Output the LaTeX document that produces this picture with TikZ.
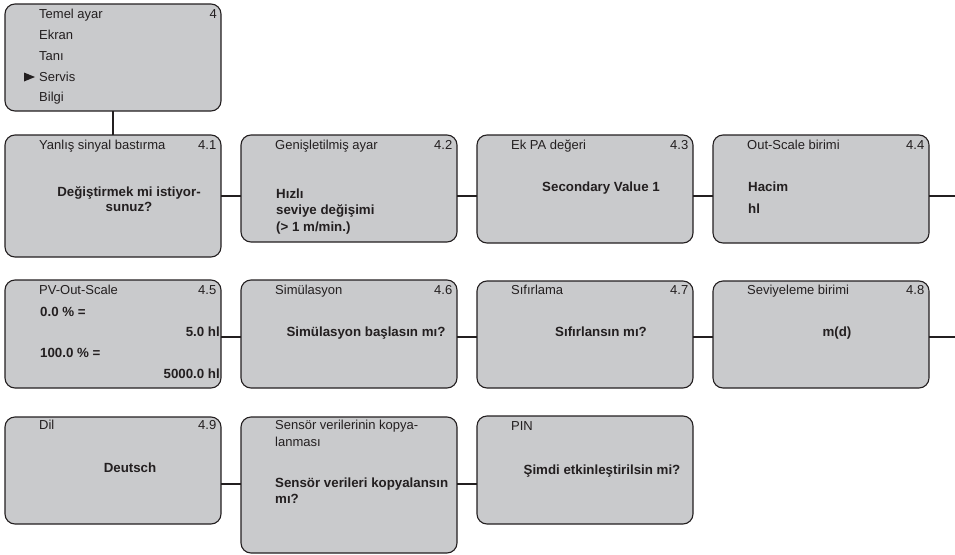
\documentclass[tikz,border=0pt]{standalone}
\usepackage{fontspec}
\setmainfont{Liberation Sans}
\definecolor{boxgray}{RGB}{201,202,204}
\definecolor{ink}{RGB}{35,31,32}
\tikzset{
  box/.style={draw=ink, line width=1.1pt, fill=boxgray, rounded corners=10pt,
              inner sep=0pt, outer sep=0pt, minimum width=216pt},
  conn/.style={draw=ink, line width=2.4pt},
  txt/.style={inner sep=0pt, text=ink, font=\fontsize{13}{15}\selectfont},
  hd/.style={txt, anchor=base west},
  num/.style={txt, anchor=base east},
  bc/.style={txt, anchor=base, font=\fontsize{13.3}{15}\selectfont\bfseries},
  bl/.style={txt, anchor=base west, font=\fontsize{13.3}{15}\selectfont\bfseries},
  br/.style={txt, anchor=base east, font=\fontsize{13.3}{15}\selectfont\bfseries},
}
\begin{document}
\begin{tikzpicture}[x=1pt, y=-1pt]
\useasboundingbox (0,0) rectangle (955,554);
% boxes
\node[box, minimum height=107pt] (top)  at (113,57.5) {};
\node[box, minimum height=122pt] (b41) at (113,196) {};
\node[box, minimum height=107pt] (b42) at (349,188.5) {};
\node[box, minimum height=108pt] (b43) at (585,189) {};
\node[box, minimum height=108pt] (b44) at (821,189) {};
\node[box, minimum height=108pt] (b45) at (113,334) {};
\node[box, minimum height=108pt] (b46) at (349,334) {};
\node[box, minimum height=107pt] (b47) at (585,334.5) {};
\node[box, minimum height=107pt] (b48) at (821,334.5) {};
\node[box, minimum height=107pt] (b49) at (113,470.5) {};
\node[box, minimum height=136pt] (b410) at (349,485) {};
\node[box, minimum height=108pt] (bpin) at (585,470) {};
% connector levels
\coordinate (r1) at (0,196);
\coordinate (r2) at (0,337);
\coordinate (r3) at (0,484);
\coordinate (e1) at (955,196);
\coordinate (e2) at (955,337);
% connectors
\draw[conn] (top.south) -- (b41.north);
\draw[conn] (b41.east |- r1) -- (b42.west |- r1);
\draw[conn] (b42.east |- r1) -- (b43.west |- r1);
\draw[conn] (b43.east |- r1) -- (b44.west |- r1);
\draw[conn] (b44.east |- r1) -- (e1);
\draw[conn] (b45.east |- r2) -- (b46.west |- r2);
\draw[conn] (b46.east |- r2) -- (b47.west |- r2);
\draw[conn] (b47.east |- r2) -- (b48.west |- r2);
\draw[conn] (b48.east |- r2) -- (e2);
\draw[conn] (b49.east |- r3) -- (b410.west |- r3);
\draw[conn] (b410.east |- r3) -- (bpin.west |- r3);
% top menu
\node[hd] (t1) at (39,18.5) {Temel ayar};
\node[num] (t0) at (217,18.5) {4};
\node[hd] (t2) at (39,39.3) {Ekran};
\node[hd] (t3) at (39,60.2) {Tanı};
\node[hd] (t4) at (39,81) {Servis};
\node[hd] (t5) at (39,101.8) {Bilgi};
\fill[ink] (24,72.5) -- (35,77) -- (24,81.5) -- cycle;
% row 1
\node[hd] (h41) at (39,149.5) {Yanlış sinyal bastırma};
\node[num] (n41) at (216.5,149.5) {4.1};
\node[bc] (x41a) at (129,196.5) {Değiştirmek mi istiyor-};
\node[bc] (x41b) at (129,211.5) {sunuz?};
\node[hd] (h42) at (275,149.5) {Genişletilmiş ayar};
\node[num] (n42) at (452.5,149.5) {4.2};
\node[bl] (x42a) at (276,198) {Hızlı};
\node[bl] (x42b) at (276,214.5) {seviye değişimi};
\node[bl] (x42c) at (276,231) {(> 1 m/min.)};
\node[hd] (h43) at (511,149.5) {Ek PA değeri};
\node[num] (n43) at (688.5,149.5) {4.3};
\node[bc] (x43) at (601,191.7) {Secondary Value 1};
\node[hd] (h44) at (747,149.5) {Out-Scale birimi};
\node[num] (n44) at (924.5,149.5) {4.4};
\node[bl] (x44a) at (748,191.7) {Hacim};
\node[bl] (x44b) at (748,213.3) {hl};
% row 2
\node[hd] (h45) at (39,294.5) {PV-Out-Scale};
\node[num] (n45) at (216.5,294.5) {4.5};
\node[bl] (x45a) at (40,316) {0.0 \% =};
\node[br] (x45b) at (220,336.7) {5.0 hl};
\node[bl] (x45c) at (40,357.3) {100.0 \% =};
\node[br] (x45d) at (220,378.3) {5000.0 hl};
\node[hd] (h46) at (275,294.5) {Simülasyon};
\node[num] (n46) at (452.5,294.5) {4.6};
\node[bc] (x46) at (366,336.7) {Simülasyon başlasın mı?};
\node[hd] (h47) at (511,294.5) {Sıfırlama};
\node[num] (n47) at (688.5,294.5) {4.7};
\node[bc] (x47) at (601,336.7) {Sıfırlansın mı?};
\node[hd] (h48) at (747,294.5) {Seviyeleme birimi};
\node[num] (n48) at (924.5,294.5) {4.8};
\node[bc] (x48) at (837,336.7) {m(d)};
% row 3
\node[hd] (h49) at (39,429.5) {Dil};
\node[num] (n49) at (216.5,429.5) {4.9};
\node[bc] (x49) at (130,472.3) {Deutsch};
\node[hd] (h410a) at (275,429.5) {Sensör verilerinin kopya-};
\node[hd] (h410b) at (275,446.7) {lanması};
\node[bl] (x410a) at (275,487.3) {Sensör verileri kopyalansın};
\node[bl] (x410b) at (275,503.3) {mı?};
\node[hd] (hpin) at (511,430) {PIN};
\node[bc] (xpin) at (602,474) {Şimdi etkinleştirilsin mi?};
\end{tikzpicture}
\end{document}
